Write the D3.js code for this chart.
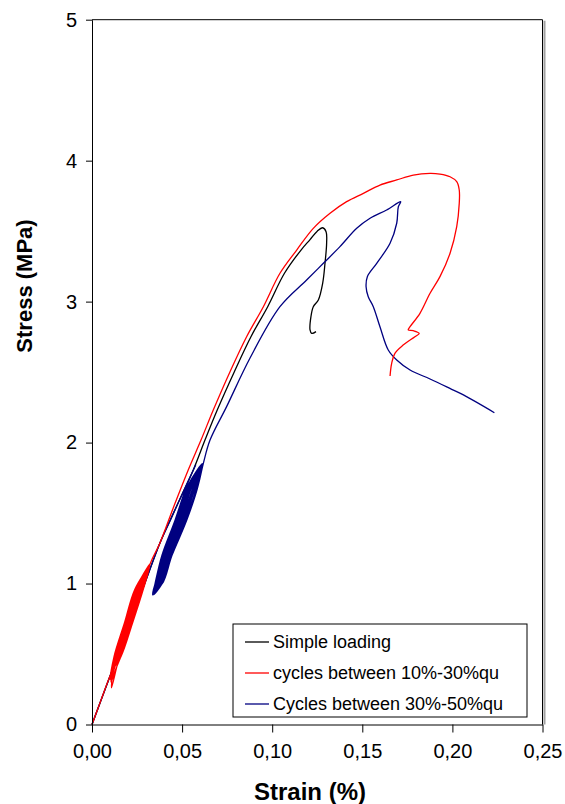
<!DOCTYPE html>
<html>
<head>
<meta charset="utf-8">
<script src="https://cdn.jsdelivr.net/npm/d3@7"></script>
<style>
  html, body { margin: 0; padding: 0; background: #fff; }
  svg text { font-family: "Liberation Sans", Arial, sans-serif; }
</style>
</head>
<body>
<svg id="chart" width="565" height="804"></svg>
<script>
// ---- data ----
const xTicks = [0, 0.05, 0.10, 0.15, 0.20, 0.25];
const xTickLabels = ["0,00", "0,05", "0,10", "0,15", "0,20", "0,25"];
const yTicks = [0, 1, 2, 3, 4, 5];
const yTickLabels = ["0", "1", "2", "3", "4", "5"];
const seriesNames = ["Simple loading", "cycles between 10%-30%qu", "Cycles between 30%-50%qu"];
const seriesColors = ["#000000", "#ff0000", "#000080"];

const simpleLoading = [
  [0, 0], [0.0105, 0.36], [0.0246, 0.84], [0.0377, 1.288], [0.0470, 1.55], [0.0562, 1.806],
  [0.0627, 2.018], [0.0695, 2.231], [0.0790, 2.503], [0.0882, 2.751], [0.0975, 2.964],
  [0.1068, 3.201], [0.1160, 3.366], [0.1210, 3.440], [0.1250, 3.500], [0.1280, 3.524],
  [0.1299, 3.496], [0.1302, 3.414], [0.1293, 3.272], [0.1280, 3.130], [0.1256, 3.012],
  [0.1228, 2.964], [0.1215, 2.893], [0.1210, 2.799], [0.1219, 2.775], [0.1243, 2.787]
];

const cycles10_30 = [
  [0, 0], [0.0052, 0.18], [0.0105, 0.36], [0.0149, 0.48], [0.0212, 0.72], [0.0271, 0.96], [0.0318, 1.12],
  [0.0238, 0.96], [0.0180, 0.72], [0.0122, 0.48], [0.0103, 0.32],
  [0.0160, 0.48], [0.0225, 0.72], [0.0285, 0.96], [0.0320, 1.13],
  [0.0247, 0.96], [0.0189, 0.72], [0.0130, 0.48], [0.0108, 0.26],
  [0.0152, 0.48], [0.0216, 0.72], [0.0276, 0.96], [0.0308, 1.09],
  [0.0257, 0.96], [0.0198, 0.72], [0.0137, 0.48], [0.0112, 0.35],
  [0.0145, 0.48], [0.0207, 0.72], [0.0266, 0.96], [0.0322, 1.14],
  [0.0242, 0.96], [0.0185, 0.72], [0.0126, 0.48], [0.0106, 0.30],
  [0.0156, 0.48], [0.0220, 0.72], [0.0280, 0.96], [0.0312, 1.11],
  [0.0252, 0.96], [0.0194, 0.72], [0.0134, 0.48], [0.0114, 0.38],
  [0.0149, 0.48], [0.0212, 0.72], [0.0271, 0.96], [0.0321, 1.13],
  [0.0262, 0.96], [0.0203, 0.72], [0.0141, 0.48], [0.0118, 0.40],
  [0.0160, 0.48], [0.0225, 0.72], [0.0285, 0.96], [0.0323, 1.14],
  [0.0377, 1.288], [0.0455, 1.55], [0.0534, 1.806], [0.0605, 2.018], [0.0673, 2.231],
  [0.0766, 2.503], [0.0858, 2.751], [0.0951, 2.964], [0.1043, 3.201], [0.1136, 3.366],
  [0.1228, 3.520], [0.1321, 3.627], [0.1413, 3.709], [0.1506, 3.768], [0.1598, 3.827],
  [0.1691, 3.863], [0.1783, 3.898], [0.1876, 3.910], [0.1931, 3.905], [0.1987, 3.886],
  [0.2024, 3.851], [0.2038, 3.792], [0.2038, 3.697], [0.2024, 3.532], [0.1987, 3.343],
  [0.1931, 3.177], [0.1876, 3.059], [0.1820, 2.917], [0.1765, 2.822], [0.1755, 2.799],
  [0.1783, 2.794], [0.1816, 2.775], [0.1792, 2.751], [0.1727, 2.692], [0.1681, 2.633],
  [0.1663, 2.562], [0.1654, 2.472]
];

const cycles30_50 = [
  [0, 0], [0.0052, 0.18], [0.0105, 0.36], [0.0176, 0.60], [0.0246, 0.84], [0.0316, 1.08],
  [0.0377, 1.288], [0.0435, 1.45], [0.0524, 1.70], [0.0575, 1.84],
  [0.0527, 1.70], [0.0461, 1.45], [0.0388, 1.20], [0.0350, 1.00], [0.0337, 0.92],
  [0.0390, 1.00], [0.0444, 1.20], [0.0526, 1.45], [0.0590, 1.70], [0.0605, 1.82],
  [0.0540, 1.70], [0.0474, 1.45], [0.0399, 1.20], [0.0358, 1.00], [0.0342, 0.93],
  [0.0382, 1.00], [0.0433, 1.20], [0.0513, 1.45], [0.0577, 1.70], [0.0608, 1.84],
  [0.0552, 1.70], [0.0487, 1.45], [0.0410, 1.20], [0.0366, 1.00], [0.0346, 0.94],
  [0.0374, 1.00], [0.0422, 1.20], [0.0500, 1.45], [0.0565, 1.70], [0.0612, 1.85],
  [0.0534, 1.70], [0.0468, 1.45], [0.0394, 1.20], [0.0354, 1.00], [0.0340, 0.95],
  [0.0386, 1.00], [0.0438, 1.20], [0.0520, 1.45], [0.0584, 1.70], [0.0610, 1.84],
  [0.0546, 1.70], [0.0481, 1.45], [0.0405, 1.20], [0.0362, 1.00], [0.0348, 0.96],
  [0.0378, 1.00], [0.0427, 1.20], [0.0507, 1.45], [0.0571, 1.70], [0.0614, 1.85],
  [0.0558, 1.70], [0.0494, 1.45], [0.0416, 1.20], [0.0370, 1.00], [0.0352, 0.97],
  [0.0390, 1.00], [0.0444, 1.20], [0.0526, 1.45], [0.0590, 1.70], [0.0618, 1.853],
  [0.0655, 2.018], [0.0747, 2.255], [0.0877, 2.600], [0.1043, 2.964], [0.1191, 3.153],
  [0.1284, 3.272], [0.1376, 3.390], [0.1469, 3.520], [0.1543, 3.591], [0.1635, 3.650],
  [0.1713, 3.709], [0.1700, 3.673], [0.1691, 3.556], [0.1654, 3.414], [0.1580, 3.272],
  [0.1528, 3.177], [0.1521, 3.106], [0.1533, 3.035], [0.1561, 2.964], [0.1598, 2.822],
  [0.1644, 2.657], [0.1691, 2.586], [0.1765, 2.515], [0.1876, 2.451], [0.1996, 2.378],
  [0.2061, 2.338], [0.2233, 2.212]
];

// ---- layout ----
const svg = d3.select("#chart");
const L = 92, R = 542.5, T = 19.7, B = 724.5;
const x = d3.scaleLinear().domain([0, 0.25]).range([L, R]);
const y = d3.scaleLinear().domain([0, 5]).range([B, T]);

// frame (top + right, with shadow)
svg.append("line").attr("x1", R + 2).attr("x2", R + 2).attr("y1", T + 1).attr("y2", B)
  .attr("stroke", "#a0a0a0").attr("stroke-width", 2);
svg.append("line").attr("x1", L).attr("x2", R).attr("y1", T).attr("y2", T)
  .attr("stroke", "#000").attr("stroke-width", 1);
svg.append("line").attr("x1", R).attr("x2", R).attr("y1", T).attr("y2", B)
  .attr("stroke", "#000").attr("stroke-width", 1);

// curves
const line = d3.line().x(d => x(d[0])).y(d => y(d[1])).curve(d3.curveCatmullRom.alpha(0.5));
const plot = svg.append("g");
[[simpleLoading, 0], [cycles30_50, 2], [cycles10_30, 1]].forEach(([data, i]) => {
  plot.append("path").datum(data).attr("d", line)
    .attr("fill", "none").attr("stroke", seriesColors[i])
    .attr("stroke-width", 1.3).attr("stroke-linejoin", "round");
});

// axes
const xAxis = d3.axisBottom(x).tickValues(xTicks)
  .tickFormat((d, i) => xTickLabels[i]).tickSize(8).tickSizeOuter(0);
const gx = svg.append("g").attr("transform", `translate(0,${B})`).call(xAxis);
gx.selectAll("text").attr("font-size", 20).attr("fill", "#000").attr("dy", null).attr("y", 33)
  .style("font-family", '"Liberation Sans", Arial, sans-serif');
gx.selectAll("line").attr("stroke", "#000");
gx.select(".domain").attr("stroke", "#000");

const yAxis = d3.axisLeft(y).tickValues(yTicks)
  .tickFormat((d, i) => yTickLabels[i]).tickSize(6).tickSizeOuter(0);
const gy = svg.append("g").attr("transform", `translate(${L},0)`).call(yAxis);
gy.selectAll("text").attr("font-size", 20).attr("fill", "#000").attr("x", -15)
  .style("font-family", '"Liberation Sans", Arial, sans-serif');
gy.selectAll("line").attr("stroke", "#000");
gy.select(".domain").attr("stroke", "#000");

// axis titles
svg.append("text").attr("x", 310).attr("y", 800).attr("text-anchor", "middle")
  .attr("font-size", 24).attr("font-weight", "bold").text("Strain (%)");
svg.append("text").attr("transform", "translate(32,286) rotate(-90)").attr("text-anchor", "middle")
  .attr("font-size", 22).attr("font-weight", "bold").text("Stress (MPa)");

// legend
const lg = svg.append("g");
lg.append("rect").attr("x", 233).attr("y", 624).attr("width", 294).attr("height", 93)
  .attr("fill", "#fff").attr("stroke", "#000").attr("stroke-width", 1);
const legendOrder = [0, 1, 2];
const legendY = [642, 673, 704];
legendOrder.forEach((i, k) => {
  lg.append("line").attr("x1", 245).attr("x2", 269).attr("y1", legendY[k]).attr("y2", legendY[k])
    .attr("stroke", seriesColors[i]).attr("stroke-width", 1.3);
  lg.append("text").attr("x", 273).attr("y", legendY[k]).attr("dy", "0.35em")
    .attr("font-size", 18).attr("fill", "#000").text(seriesNames[i]);
});
</script>
</body>
</html>
